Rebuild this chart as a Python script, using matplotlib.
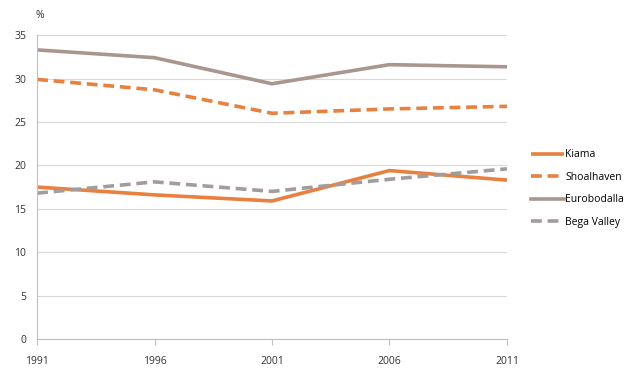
import matplotlib
matplotlib.use("Agg")
import matplotlib.pyplot as plt

years = [1991, 1996, 2001, 2006, 2011]
kiama = [17.5, 16.6, 15.9, 19.4, 18.3]
shoalhaven = [29.9, 28.7, 26.0, 26.5, 26.8]
eurobodalla = [33.3, 32.4, 29.4, 31.6, 31.35]
bega_valley = [16.8, 18.1, 17.0, 18.4, 19.6]

orange = "#E8803F"
brown = "#A8968F"
gray = "#A39C9B"

plt.rcParams['font.family'] = ['Open Sans', 'DejaVu Sans']
fig = plt.figure(figsize=(6.4, 3.77), dpi=100)
ax = fig.add_axes([0.058, 0.1008, 0.734, 0.806])

lw = 2.6
ax.plot(years, kiama, color=orange, lw=lw, label="Kiama", solid_capstyle='butt')
ax.plot(years, shoalhaven, color=orange, lw=lw, ls=(0, (3, 1.6)), label="Shoalhaven")
ax.plot(years, eurobodalla, color=brown, lw=lw, label="Eurobodalla")
ax.plot(years, bega_valley, color=gray, lw=lw, ls=(0, (3, 1.6)), label="Bega Valley")

ax.set_xlim(1991, 2011)
ax.set_ylim(0, 35)
ax.set_xticks(years)
ax.set_yticks(range(0, 36, 5))
ax.grid(axis='y', color='#D9D9D9', lw=0.8)
ax.set_axisbelow(True)
for s in ['top', 'right']:
    ax.spines[s].set_visible(False)
ax.spines['left'].set_color('#BFBFBF')
ax.spines['bottom'].set_color('#BFBFBF')
ax.tick_params(axis='y', length=0, labelsize=7.5, pad=8, colors='#333333')
ax.tick_params(axis='x', length=4, color='#BFBFBF', labelsize=7.5, pad=8, colors='#333333')
fig.text(0.055, 0.952, "%", fontsize=7.5, color='#333333')

leg = fig.legend(loc='center left', bbox_to_anchor=(0.815, 0.50), frameon=False,
                 fontsize=7.5, handlelength=3.2, handletextpad=0.1, labelspacing=1.1)
fig.savefig("out.png", dpi=100, facecolor='white')
